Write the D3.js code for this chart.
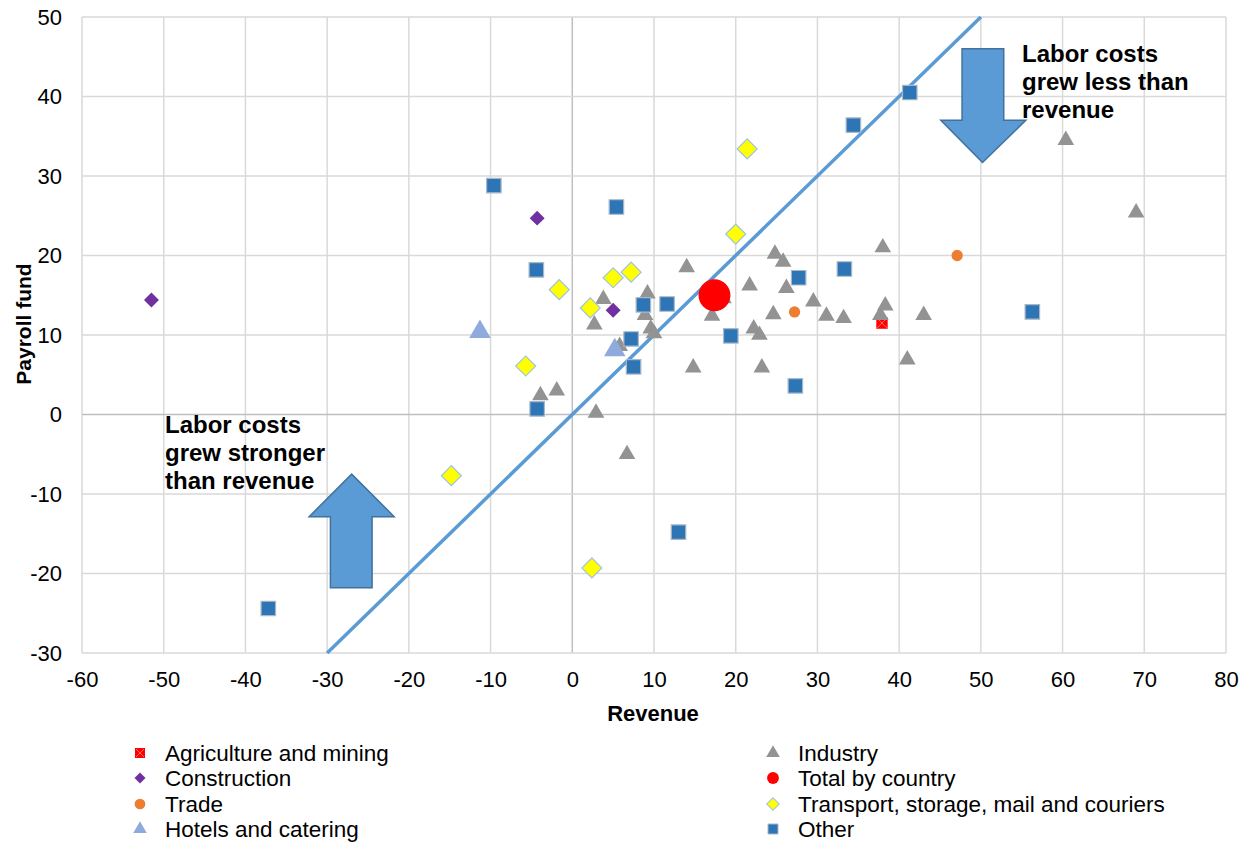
<!DOCTYPE html>
<html>
<head>
<meta charset="utf-8">
<script src="https://cdn.jsdelivr.net/npm/d3@7"></script>
<style>
  html, body { margin: 0; padding: 0; background: #ffffff; }
  svg { display: block; font-family: "Liberation Sans", Arial, sans-serif; }
</style>
</head>
<body>
<svg id="chart" width="1250" height="847"></svg>
<script>
// ---------- data ----------
const xTicks = [-60, -50, -40, -30, -20, -10, 0, 10, 20, 30, 40, 50, 60, 70, 80];
const yTicks = [-30, -20, -10, 0, 10, 20, 30, 40, 50];

const agriculture = [[37.9, 11.5]];
const construction = [[-51.5, 14.4], [-4.3, 24.7], [5.0, 13.1]];
const trade = [[47.1, 20.0], [27.2, 12.9]];
const hotels = [[-11.3, 10.4], [5.2, 8.1]];
const industry = [
  [14.0, 18.5], [24.8, 20.2], [25.8, 19.2], [21.7, 16.2], [26.2, 15.9], [29.5, 14.2],
  [24.6, 12.6], [17.1, 12.4], [18.5, 14.6], [3.8, 14.5], [2.7, 11.3], [9.2, 15.2],
  [8.9, 12.5], [9.6, 10.8], [10.0, 10.2], [5.8, 8.6], [38.0, 21.0], [31.1, 12.4],
  [33.2, 12.1], [38.3, 13.7], [37.7, 12.5], [43.0, 12.5], [22.2, 10.8], [22.9, 10.0],
  [41.0, 6.9], [23.2, 5.9], [60.4, 34.5], [69.0, 25.4], [-3.9, 2.4], [-1.9, 3.0],
  [2.9, 0.2], [6.7, -5.0], [14.8, 5.9]
];
const total = [[17.4, 15.0]];
const transport = [
  [21.4, 33.4], [20.0, 22.7], [7.2, 17.9], [5.0, 17.2], [-1.6, 15.7], [2.2, 13.4],
  [-5.7, 6.1], [-14.8, -7.7], [2.4, -19.3]
];
const other = [
  [-37.2, -24.4], [-9.6, 28.8], [5.4, 26.1], [-4.4, 18.2], [8.7, 13.8], [11.6, 13.9],
  [7.2, 9.5], [7.5, 6.0], [-4.3, 0.7], [13.0, -14.8], [19.4, 9.9], [27.3, 3.6],
  [27.7, 17.2], [33.3, 18.3], [34.4, 36.4], [41.3, 40.5], [56.3, 12.9]
];
const parityLine = [[-30, -30], [50, 50]];

const legendItems = [
  "Agriculture and mining", "Construction", "Trade", "Hotels and catering",
  "Industry", "Total by country", "Transport, storage, mail and couriers", "Other"
];

// annotation arrows (data coordinates)
const downArrow = [[47.7, 46.0], [52.8, 46.0], [52.8, 37.0], [55.5, 37.0], [50.2, 31.7], [45.1, 37.0], [47.7, 37.0]];
const upArrow = [[-29.6, -21.8], [-24.5, -21.8], [-24.5, -12.85], [-21.8, -12.85], [-27.0, -7.5], [-32.2, -12.85], [-29.6, -12.85]];
const noteRight = ["Labor costs", "grew less than", "revenue"];
const noteLeft = ["Labor costs", "grew stronger", "than revenue"];

// ---------- layout ----------
const svg = d3.select("#chart");
const pLeft = 82, pRight = 1226, pTop = 17, pBottom = 653;
const x = d3.scaleLinear().domain([-60, 80]).range([pLeft, pRight]);
const y = d3.scaleLinear().domain([-30, 50]).range([pBottom, pTop]);
const FONT = "'Liberation Sans', Arial, sans-serif";

// gridlines
const grid = svg.append("g");
grid.selectAll("line.v").data(xTicks).enter().append("line")
  .attr("x1", d => x(d)).attr("x2", d => x(d)).attr("y1", pTop).attr("y2", pBottom)
  .attr("stroke", d => d === 0 ? "#BFBFBF" : "#D9D9D9").attr("stroke-width", 1.5);
grid.selectAll("line.h").data(yTicks).enter().append("line")
  .attr("y1", d => y(d)).attr("y2", d => y(d)).attr("x1", pLeft).attr("x2", pRight)
  .attr("stroke", d => d === 0 ? "#BFBFBF" : "#D9D9D9").attr("stroke-width", 1.5);

// axes tick labels via d3 axes (plain hyphen minus)
const xAxis = d3.axisBottom(x).tickValues(xTicks).tickSize(0).tickPadding(0).tickFormat(d => String(d));
const gx = svg.append("g").attr("transform", `translate(0, ${pBottom + 19})`).call(xAxis);
gx.select(".domain").remove();
gx.selectAll("text").attr("font-size", 22).attr("fill", "#000").attr("dy", "0.7em")
  .style("font-family", FONT);

const yAxis = d3.axisLeft(y).tickValues(yTicks).tickSize(0).tickPadding(0).tickFormat(d => String(d));
const gy = svg.append("g").attr("transform", `translate(62, 0)`).call(yAxis);
gy.select(".domain").remove();
gy.selectAll("text").attr("font-size", 22).attr("fill", "#000")
  .style("font-family", FONT);

// axis titles
svg.append("text").attr("x", 653).attr("y", 721).attr("text-anchor", "middle")
  .attr("font-size", 22).attr("font-weight", "bold").text("Revenue");
svg.append("text").attr("transform", "translate(31, 324) rotate(-90)").attr("text-anchor", "middle")
  .attr("font-size", 21).attr("font-weight", "bold").text("Payroll fund");

// parity line
const lineGen = d3.line().x(d => x(d[0])).y(d => y(d[1]));
svg.append("path").datum(parityLine).attr("d", lineGen)
  .attr("stroke", "#5B9BD5").attr("stroke-width", 3.5).attr("fill", "none");

// symbols
const sym = (type, size) => d3.symbol().type(type).size(size)();
function drawSeries(data, path, fill, stroke, sw, rot) {
  svg.append("g").selectAll("path").data(data).enter().append("path")
    .attr("d", path)
    .attr("transform", d => `translate(${x(d[0])}, ${y(d[1])})` + (rot ? ` rotate(${rot})` : ""))
    .attr("fill", fill).attr("stroke", stroke || "none").attr("stroke-width", sw || 0);
}

drawSeries(agriculture, sym(d3.symbolSquare, 130), "#FF0000", "none", 0);
drawSeries(agriculture, "M-5,-5L5,5M5,-5L-5,5", "none", "#FF6A5A", 1);
drawSeries(construction, sym(d3.symbolSquare, 112), "#7030A0", "none", 0, 45);
drawSeries(trade, sym(d3.symbolCircle, 100), "#ED7D31", "none", 0);
drawSeries(industry, sym(d3.symbolTriangle, 120), "#939393", "none", 0);
drawSeries(hotels, sym(d3.symbolTriangle, 200), "#8FAADC", "none", 0);
drawSeries(total, sym(d3.symbolCircle, 800), "#FF0000", "none", 0);
drawSeries(transport, sym(d3.symbolSquare, 200), "#FFFF00", "#9DC3E6", 1.2, 45);
drawSeries(other, sym(d3.symbolSquare, 210), "#2E75B6", "#A9B8C8", 1.2);

// annotation arrows
const poly = d3.line().x(d => x(d[0])).y(d => y(d[1])).curve(d3.curveLinearClosed);
svg.append("path").datum(downArrow).attr("d", poly)
  .attr("fill", "#5B9BD5").attr("stroke", "#41719C").attr("stroke-width", 1.5);
svg.append("path").datum(upArrow).attr("d", poly)
  .attr("fill", "#5B9BD5").attr("stroke", "#41719C").attr("stroke-width", 1.5);

// annotation texts
svg.append("g").selectAll("text").data(noteRight).enter().append("text")
  .attr("x", 1022).attr("y", (d, i) => 62 + i * 28)
  .attr("font-size", 24).attr("font-weight", "bold").attr("fill", "#000").text(d => d);
svg.append("g").selectAll("text").data(noteLeft).enter().append("text")
  .attr("x", 165).attr("y", (d, i) => 433 + i * 28)
  .attr("font-size", 24).attr("font-weight", "bold").attr("fill", "#000").text(d => d);

// legend
const legendMarkers = [
  {path: sym(d3.symbolSquare, 100), fill: "#FF0000", stroke: "none", rot: 0, cross: true},
  {path: sym(d3.symbolSquare, 60), fill: "#7030A0", stroke: "none", rot: 45},
  {path: sym(d3.symbolCircle, 90), fill: "#ED7D31", stroke: "none", rot: 0},
  {path: sym(d3.symbolTriangle, 80), fill: "#8FAADC", stroke: "none", rot: 0},
  {path: sym(d3.symbolTriangle, 80), fill: "#939393", stroke: "none", rot: 0},
  {path: sym(d3.symbolCircle, 110), fill: "#FF0000", stroke: "none", rot: 0},
  {path: sym(d3.symbolSquare, 80), fill: "#FFFF00", stroke: "#9DC3E6", rot: 45},
  {path: sym(d3.symbolSquare, 100), fill: "#2E75B6", stroke: "#A9B8C8", rot: 0}
];
const rowY = [753, 778, 804, 829];
const lg = svg.append("g").selectAll("g").data(legendItems).enter().append("g")
  .attr("transform", (d, i) => `translate(${i < 4 ? 140 : 773}, ${rowY[i % 4]})`);
lg.append("path").attr("d", (d, i) => legendMarkers[i].path)
  .attr("transform", (d, i) => `rotate(${legendMarkers[i].rot})`)
  .attr("fill", (d, i) => legendMarkers[i].fill)
  .attr("stroke", (d, i) => legendMarkers[i].stroke).attr("stroke-width", 1);
lg.filter((d, i) => legendMarkers[i].cross).append("path")
  .attr("d", "M-4,-4L4,4M4,-4L-4,4").attr("stroke", "#FF6A5A").attr("stroke-width", 1);
lg.append("text").attr("x", 25).attr("dy", "0.35em").attr("font-size", 22.5)
  .attr("fill", "#000").text(d => d);
</script>
</body>
</html>
